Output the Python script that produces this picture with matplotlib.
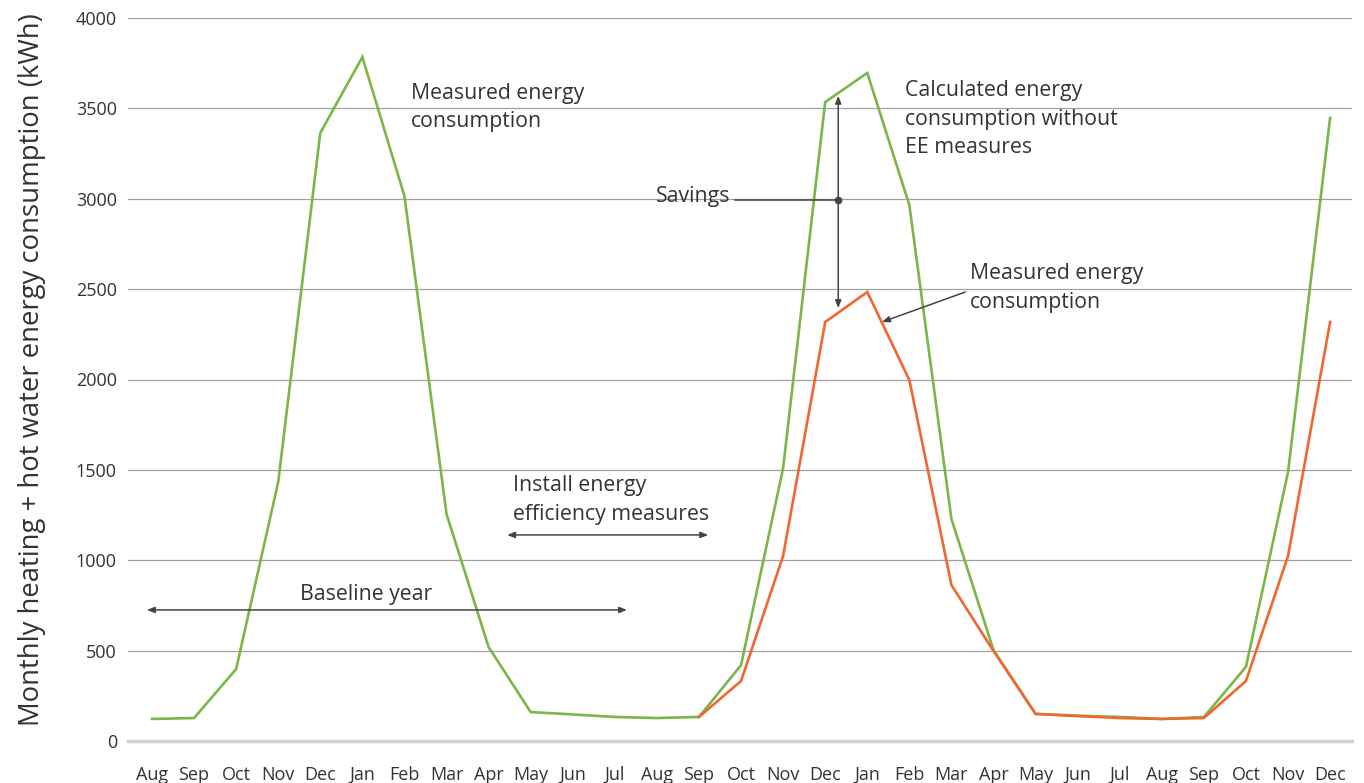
import matplotlib
matplotlib.use("Agg")
import matplotlib.pyplot as plt
import numpy as np

months = ["Aug", "Sep", "Oct", "Nov", "Dec", "Jan", "Feb", "Mar", "Apr", "May", "Jun", "Jul",
          "Aug", "Sep", "Oct", "Nov", "Dec", "Jan", "Feb", "Mar", "Apr", "May", "Jun", "Jul",
          "Aug", "Sep", "Oct", "Nov", "Dec"]

calculated = [122, 127, 398, 1433, 3364, 3784, 3015, 1256, 520, 160, 147, 133,
              127, 133, 420, 1510, 3535, 3696, 2965, 1228, 503, 150, 140, 133,
              122, 133, 410, 1488, 3447]

measured_start = 13
measured = [133, 332, 1024, 2318, 2484, 1997, 863, 498, 150, 138, 127,
            122, 127, 332, 1024, 2318]

yticks = [0, 500, 1000, 1500, 2000, 2500, 3000, 3500, 4000]

GREEN = "#7ab648"
ORANGE = "#f0672f"
TXT = "#333333"
ARW = "#444444"
FONT = "Open Sans"

plt.rcParams["font.family"] = [FONT, "DejaVu Sans"]

fig = plt.figure(figsize=(13.64, 7.83), dpi=100)
ax = fig.add_axes([128/1364, 1-741/783, (1352-128)/1364, (741-18)/783])

x = np.arange(len(months))
ax.plot(x, calculated, color=GREEN, lw=1.9, zorder=3, solid_joinstyle="miter")
xm = np.arange(measured_start, measured_start + len(measured))
ax.plot(xm, measured, color=ORANGE, lw=1.9, zorder=4, solid_joinstyle="miter")

ax.set_xlim(-0.57, 28.52)
ax.set_ylim(0, 4000)
ax.set_yticks(yticks)
ax.set_yticklabels([str(v) for v in yticks], fontsize=13, color=TXT)
ax.set_xticks(x)
ax.set_xticklabels(months, fontsize=13, color=TXT)
ax.tick_params(axis="both", length=0)
ax.tick_params(axis="x", pad=18)
ax.tick_params(axis="y", pad=8)

for v in yticks[1:]:
    ax.axhline(v, color="#a0a0a0", lw=0.9, zorder=1)
for s in ["top", "right", "left"]:
    ax.spines[s].set_visible(False)
ax.spines["bottom"].set_color("#d0d0d0")
ax.spines["bottom"].set_linewidth(2.5)

ax.set_ylabel("Monthly heating + hot water energy consumption (kWh)", fontsize=19.8,
              color=TXT)
ax.yaxis.set_label_coords(-0.067, 0.513)

tk = dict(fontsize=15.3, color=TXT, linespacing=1.48)
ax.text(6.15, 3505, "Measured energy\nconsumption", ha="left", va="center", **tk)
ax.text(17.9, 3441, "Calculated energy\nconsumption without\nEE measures", ha="left", va="center", **tk)
ax.text(19.44, 2506, "Measured energy\nconsumption", ha="left", va="center", **tk)
ax.text(8.58, 1333, "Install energy\nefficiency measures", ha="left", va="center", **tk)
ax.text(5.1, 813, "Baseline year", ha="center", va="center", **tk)
ax.text(13.75, 3010, "Savings", ha="right", va="center", **tk)

arr2 = dict(arrowstyle="<|-|>,head_length=0.45,head_width=0.18", color=ARW, lw=1.1,
            shrinkA=0, shrinkB=0)
arr1 = dict(arrowstyle="-|>,head_length=0.45,head_width=0.18", color=ARW, lw=1.1,
            shrinkA=0, shrinkB=0)

ax.annotate("", xy=(-0.12, 725), xytext=(11.29, 725), arrowprops=arr2, zorder=5)
ax.annotate("", xy=(8.44, 1140), xytext=(13.22, 1140), arrowprops=arr2, zorder=5)
ax.annotate("", xy=(16.31, 3570), xytext=(16.31, 2395), arrowprops=arr2, zorder=5)
ax.plot([13.86, 16.31], [2993, 2993], color=ARW, lw=1.1, zorder=5)
ax.plot([16.31], [2993], "o", color=ARW, ms=4.5, zorder=6)
ax.annotate("", xy=(17.35, 2318), xytext=(19.33, 2484), arrowprops=arr1, zorder=5)

fig.savefig("out.png", dpi=100)
